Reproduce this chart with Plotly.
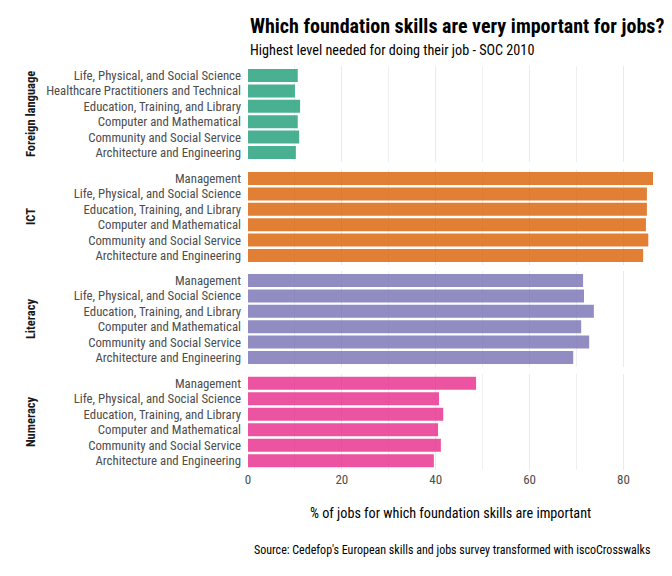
"""Foundation skills by occupation - faceted bar chart"""

import plotly.graph_objects as go

# data
skills = ["Foreign language", "ICT", "Literacy", "Numeracy"]

occ_foreign = ["Life, Physical, and Social Science",
               "Healthcare Practitioners and Technical",
               "Education, Training, and Library",
               "Computer and Mathematical",
               "Community and Social Service",
               "Architecture and Engineering"]
occ_other = ["Management",
             "Life, Physical, and Social Science",
             "Education, Training, and Library",
             "Computer and Mathematical",
             "Community and Social Service",
             "Architecture and Engineering"]

val_foreign = [10.6, 10.0, 11.1, 10.6, 10.9, 10.2]
val_ict = [86.3, 85.0, 85.0, 84.8, 85.3, 84.2]
val_literacy = [71.4, 71.6, 73.7, 71.0, 72.7, 69.3]
val_numeracy = [48.6, 40.7, 41.6, 40.5, 41.1, 39.6]

colors = ["#1B9E77", "#D95F02", "#7570B3", "#E7298A"]

FONT = "Roboto Condensed, Liberation Sans Narrow, Roboto, sans-serif"


def main():
    cats = [occ_foreign, occ_other, occ_other, occ_other]
    vals = [val_foreign, val_ict, val_literacy, val_numeracy]

    # panel extents in px from the top of the plot area (height 404)
    H = 404.0
    panels = [(0.3, 95.7), (103.3, 198.7), (205.3, 300.7), (308.0, 404.0)]

    fig = go.Figure()
    layout = {}
    for i in range(4):
        n = "" if i == 0 else str(i + 1)
        fig.add_trace(go.Bar(
            x=vals[i], y=cats[i], orientation="h",
            marker=dict(color=colors[i], opacity=0.8, line_width=0),
            width=0.85, xaxis="x" + n, yaxis="y" + n,
            showlegend=False, hoverinfo="x+y",
        ))
        top, bot = panels[i]
        layout["xaxis" + n] = dict(
            domain=[0, 1], anchor="y" + n, range=[0, 86.3],
            dtick=20, tick0=0, showgrid=True, gridcolor="#EBEBEB", gridwidth=1,
            minor=dict(dtick=10, showgrid=True, gridcolor="#F0F0F0", gridwidth=0.6),
            zeroline=False, showline=False, ticks="",
            showticklabels=(i == 3),
            tickfont=dict(family=FONT, size=13, color="#4D4D4D"),
        )
        if i > 0:
            layout["xaxis" + n]["matches"] = "x"
        layout["yaxis" + n] = dict(
            domain=[1 - bot / H, 1 - top / H], anchor="x" + n,
            categoryorder="array", categoryarray=cats[i],
            range=[5.6, -0.6], showgrid=False, zeroline=False, ticks="",
            ticklabelstandoff=6,
            tickfont=dict(family=FONT, size=12.8, color="#4D4D4D"),
        )
        # strip label on the left
        fig.add_annotation(
            text="<b>" + skills[i] + "</b>", textangle=-90,
            xref="paper", yref="paper", x=-0.538, y=1 - (top + bot) / 2 / H,
            xanchor="center", yanchor="middle",
            showarrow=False, font=dict(family=FONT, size=12.5, color="#1A1A1A"),
        )

    fig.update_layout(**layout)

    fig.add_annotation(
        text="<b>Which foundation skills are very important for jobs?</b>",
        xref="paper", yref="paper", x=0, y=(470 - 26) / H,
        xanchor="left", yanchor="middle", showarrow=False,
        font=dict(family=FONT, size=20, color="black"),
    )
    fig.add_annotation(
        text="Highest level needed for doing their job - SOC 2010",
        xref="paper", yref="paper", x=0, y=(470 - 50) / H,
        xanchor="left", yanchor="middle", showarrow=False,
        font=dict(family=FONT, size=14.2, color="black"),
    )
    fig.add_annotation(
        text="% of jobs for which foundation skills are important",
        xref="paper", yref="paper", x=0.5, y=(470 - 513) / H,
        xanchor="center", yanchor="middle", showarrow=False,
        font=dict(family=FONT, size=14.2, color="black"),
    )
    fig.add_annotation(
        text="Source: Cedefop's European skills and jobs survey transformed with iscoCrosswalks",
        xref="paper", yref="paper", x=1, y=(470 - 550) / H,
        xanchor="right", yanchor="middle", showarrow=False,
        font=dict(family=FONT, size=12, color="black"),
    )

    # page body adds an 8px offset, so the figure is 8px smaller each way
    fig.update_layout(
        width=664, height=568,
        margin=dict(l=240, r=19, t=58, b=106),
        plot_bgcolor="white", paper_bgcolor="white",
        bargap=0.1,
        font=dict(family=FONT),
    )
    fig.write_html("out.html")


if __name__ == "__main__":
    main()
